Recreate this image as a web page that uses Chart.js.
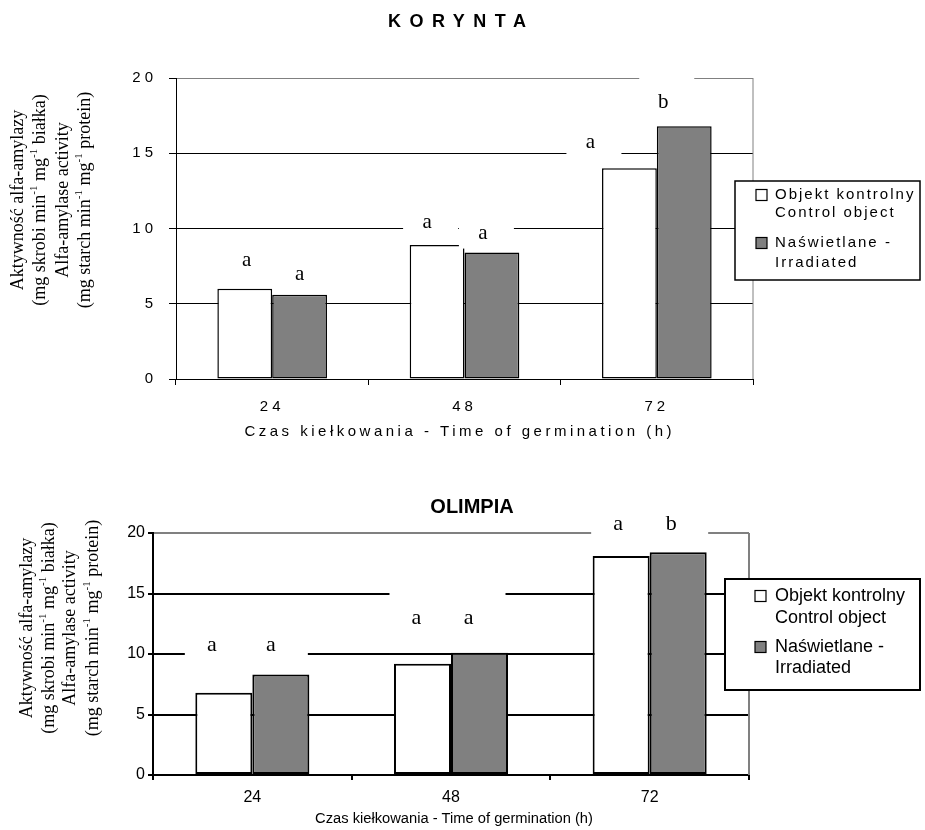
<!DOCTYPE html>
<html>
<head>
<meta charset="utf-8">
<script src="https://cdn.jsdelivr.net/npm/chart.js@4.4.0/dist/chart.umd.min.js"></script>
<style>
html,body{margin:0;padding:0;background:#fff;}
#wrap{position:relative;width:925px;height:830px;overflow:hidden;background:#fff;}
#box1{position:absolute;left:0;top:0;width:925px;height:450px;}
#box2{position:absolute;left:0;top:455px;width:925px;height:375px;}
</style>
</head>
<body>
<div id="wrap">
  <div id="box1"><canvas id="c1"></canvas></div>
  <div id="box2"><canvas id="c2"></canvas></div>
</div>
<script>
// ---------- data ----------
const categories = ['24', '48', '72'];
const yMin = 0, yMax = 20, yStep = 5;

const koryntaControl = [6.0, 8.9, 14.0];
const koryntaIrradiated = [5.6, 8.4, 16.8];
const koryntaControlLetters = ['a', 'a', 'a'];
const koryntaIrradiatedLetters = ['a', 'a', 'b'];

const olimpiaControl = [6.8, 9.2, 18.1];
const olimpiaIrradiated = [8.3, 10.1, 18.4];
const olimpiaControlLetters = ['a', 'a', 'a'];
const olimpiaIrradiatedLetters = ['a', 'a', 'b'];

const controlLegend = ['Objekt kontrolny', 'Control object'];
const irradiatedLegend = ['Naświetlane -', 'Irradiated'];
const xAxisTitle = 'Czas kiełkowania - Time of germination (h)';
const yAxisTitle = [
  [['Aktywność alfa-amylazy']],
  [['(mg skrobi min'], ['-1', 1], [' mg'], ['-1', 1], [' białka)']],
  [['Alfa-amylase activity']],
  [['(mg starch min'], ['-1', 1], [' mg'], ['-1', 1], [' protein)']]
];

// ---------- helpers ----------
const SANS = '"Liberation Sans", Arial, sans-serif';
const SERIF = '"Liberation Serif", "Times New Roman", serif';

function drawSpaced(ctx, text, x, y, spacing, align) {
  ctx.letterSpacing = spacing + 'px';
  const w = ctx.measureText(text).width - spacing;
  ctx.textAlign = 'left';
  ctx.fillText(text, align === 'center' ? x - w / 2 : x, y);
}

function drawRich(ctx, segs, cx, cy, size) {
  const main = size + 'px ' + SERIF;
  const sup = Math.round(size * 0.62) + 'px ' + SERIF;
  let w = 0;
  const ws = segs.map(s => { ctx.font = s[1] ? sup : main; const m = ctx.measureText(s[0]).width; w += m; return m; });
  ctx.save();
  ctx.translate(cx, cy);
  ctx.rotate(-Math.PI / 2);
  ctx.textAlign = 'left';
  ctx.textBaseline = 'middle';
  let x = -w / 2;
  segs.forEach((s, i) => {
    ctx.font = s[1] ? sup : main;
    ctx.fillText(s[0], x, s[1] ? -size * 0.33 : 0);
    x += ws[i];
  });
  ctx.restore();
}

const decor = {
  id: 'decor',
  beforeDraw(chart, args, o) {
    chart.ctx.letterSpacing = o.scaleSpacing + 'px';
  },
  beforeDatasetsDraw(chart, args, o) {
    const { ctx, chartArea: a } = chart;
    ctx.save();
    ctx.strokeStyle = o.frameColor;
    ctx.lineWidth = o.frameWidth;
    ctx.beginPath();
    ctx.moveTo(a.right, a.top);
    ctx.lineTo(a.right, a.bottom);
    ctx.stroke();
    ctx.restore();
  },
  afterDatasetsDraw(chart, args, o) {
    const ctx = chart.ctx, L = o.letters;
    ctx.save();
    ctx.letterSpacing = '0px';
    const pts = [];
    L.sets.forEach((letters, di) => {
      const meta = chart.getDatasetMeta(di);
      letters.forEach((t, j) => {
        const bar = meta.data[j];
        const off = L.offsets[di][j];
        pts.push({ t, x: bar.x + off[0], y: bar.y + off[1] });
      });
    });
    ctx.fillStyle = '#fff';
    pts.forEach(p => ctx.fillRect(p.x - L.box[0], p.y - L.box[2], L.box[0] + L.box[1], L.box[2] + L.box[3]));
    ctx.fillStyle = '#000';
    ctx.font = L.size + 'px ' + SERIF;
    ctx.textAlign = 'center';
    ctx.textBaseline = 'middle';
    pts.forEach(p => ctx.fillText(p.t, p.x, p.y));
    ctx.restore();
  },
  afterDraw(chart, args, o) {
    const ctx = chart.ctx;
    ctx.save();
    ctx.fillStyle = '#000';
    ctx.textBaseline = 'middle';
    // chart title
    ctx.font = o.title.font;
    drawSpaced(ctx, o.title.text, o.title.x, o.title.y, o.title.spacing, 'center');
    // x title
    ctx.font = o.xTitle.font;
    drawSpaced(ctx, xAxisTitle, o.xTitle.x, o.xTitle.y, o.xTitle.spacing, 'center');
    // y title
    ctx.letterSpacing = '0px';
    yAxisTitle.forEach((segs, i) => drawRich(ctx, segs, o.yTitle.xs[i], o.yTitle.cy, o.yTitle.size));
    // legend
    const g = o.legend;
    ctx.fillStyle = '#fff';
    ctx.fillRect(g.box[0], g.box[1], g.box[2] - g.box[0], g.box[3] - g.box[1]);
    ctx.strokeStyle = '#000';
    ctx.lineWidth = g.lineWidth;
    ctx.strokeRect(g.box[0], g.box[1], g.box[2] - g.box[0], g.box[3] - g.box[1]);
    ctx.font = g.font;
    chart.data.datasets.forEach((ds, i) => {
      const ys = g.lineYs[i];
      ctx.fillStyle = ds.backgroundColor;
      ctx.fillRect(g.squareX, ys[0] - g.square / 2, g.square, g.square);
      ctx.strokeStyle = '#000';
      ctx.lineWidth = 1.2;
      ctx.strokeRect(g.squareX, ys[0] - g.square / 2, g.square, g.square);
      ctx.fillStyle = '#000';
      ds.legendLines.forEach((line, k) => drawSpaced(ctx, line, g.textX, ys[k], g.spacing, 'left'));
    });
    ctx.restore();
  }
};

function makeChart(id, ctrl, irr, ctrlLetters, irrLetters, s) {
  return new Chart(document.getElementById(id), {
    type: 'bar',
    data: {
      labels: categories,
      datasets: [
        { label: controlLegend.join(' '), legendLines: controlLegend, data: ctrl,
          backgroundColor: '#ffffff', borderColor: '#000000', borderWidth: s.barBorder, borderSkipped: false },
        { label: irradiatedLegend.join(' '), legendLines: irradiatedLegend, data: irr,
          backgroundColor: '#808080', borderColor: '#000000', borderWidth: s.barBorder, borderSkipped: false }
      ]
    },
    plugins: [decor],
    options: {
      responsive: true,
      maintainAspectRatio: false,
      animation: false,
      events: [],
      categoryPercentage: s.catPct,
      barPercentage: 1.0,
      layout: { padding: { top: s.top, right: s.right, left: 0, bottom: 0 } },
      scales: {
        x: {
          afterFit: sc => { sc.height = s.xHeight; },
          grid: { display: true, drawOnChartArea: false, drawTicks: true, tickLength: s.xTick,
                  tickColor: '#000', color: '#000', lineWidth: s.axisWidth, offset: true },
          border: { display: true, color: '#000', width: s.axisWidth },
          ticks: { color: '#000', font: { family: SANS, size: s.xFont }, padding: s.xPad, maxRotation: 0 }
        },
        y: {
          min: yMin, max: yMax,
          afterFit: sc => { sc.width = s.yWidth; },
          grid: { drawTicks: true, tickLength: s.yTick, tickColor: '#000', lineWidth: s.gridWidth,
                  color: c => (c.tick && c.tick.value === yMax) ? '#808080' : '#000' },
          border: { display: true, color: '#000', width: s.axisWidth },
          ticks: { stepSize: yStep, color: '#000', font: { family: SANS, size: s.yFont }, padding: s.yPad }
        }
      },
      plugins: {
        legend: { display: false },
        tooltip: { enabled: false },
        title: { display: false },
        decor: {
          scaleSpacing: s.scaleSpacing,
          frameColor: '#808080', frameWidth: s.gridWidth,
          title: s.title, xTitle: s.xTitle, yTitle: s.yTitle, legend: s.legend,
          letters: { sets: [ctrlLetters, irrLetters], size: s.letterSize, box: s.letterBox, offsets: s.letterOffsets }
        }
      }
    }
  });
}

makeChart('c1', koryntaControl, koryntaIrradiated, koryntaControlLetters, koryntaIrradiatedLetters, {
  top: 78, right: 172, xHeight: 71, yWidth: 176, catPct: 0.57,
  barBorder: 1.5, axisWidth: 1, gridWidth: 1,
  xTick: 6, yTick: 7, xFont: 15, yFont: 15, xPad: 13, yPad: 12, scaleSpacing: 4,
  title: { text: 'KORYNTA', font: 'bold 18px ' + SANS, spacing: 8.5, x: 457, y: 22 },
  xTitle: { font: '15px ' + SANS, spacing: 3.5, x: 458, y: 432 },
  yTitle: { xs: [18, 40, 63, 85], cy: 200, size: 18 },
  legend: { box: [735, 181, 920, 280], lineWidth: 1.5, font: '15px ' + SANS, spacing: 2,
            square: 11, squareX: 756, textX: 775, lineYs: [[195, 213], [243, 263]] },
  letterSize: 21, letterBox: [24, 31, 25, 15],
  letterOffsets: [[[2, -28], [-10, -23], [-39, -26]], [[0, -20], [-9, -19], [-21, -24]]]
});

makeChart('c2', olimpiaControl, olimpiaIrradiated, olimpiaControlLetters, olimpiaIrradiatedLetters, {
  top: 78, right: 176, xHeight: 55, yWidth: 153, catPct: 0.574,
  barBorder: 2, axisWidth: 2, gridWidth: 2,
  xTick: 5, yTick: 5, xFont: 16, yFont: 16, xPad: 8, yPad: 3, scaleSpacing: 0,
  title: { text: 'OLIMPIA', font: 'bold 20px ' + SANS, spacing: 0, x: 472, y: 52 },
  xTitle: { font: '14.7px ' + SANS, spacing: 0, x: 454, y: 364 },
  yTitle: { xs: [27, 49, 70, 93], cy: 173, size: 18 },
  legend: { box: [725, 124, 920, 235], lineWidth: 2, font: '18px ' + SANS, spacing: 0,
            square: 11, squareX: 755, textX: 775, lineYs: [[141, 163], [192, 213]] },
  letterSize: 22, letterBox: [27, 37, 26, 14],
  letterOffsets: [[[-12, -48], [-6, -45], [-3, -32]], [[-10, -29], [-11, -35], [-7, -28]]]
});
</script>
</body>
</html>
